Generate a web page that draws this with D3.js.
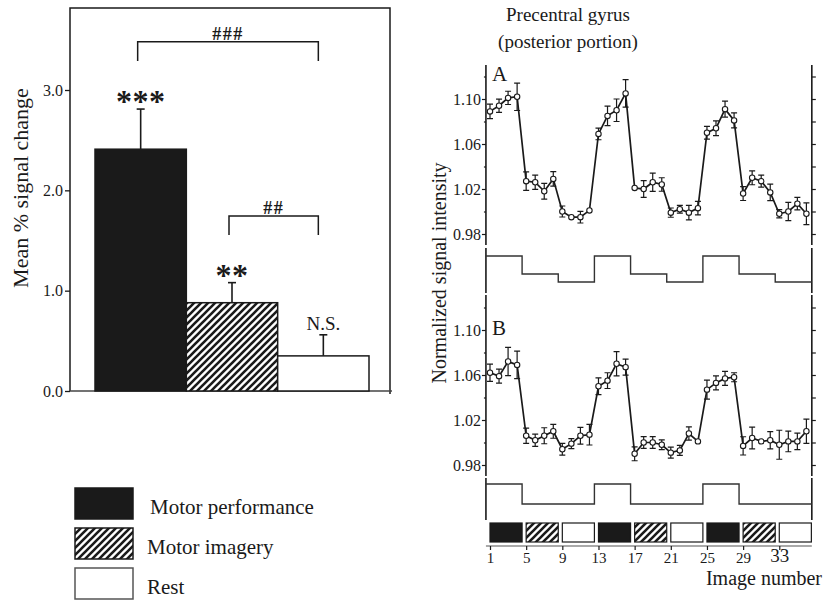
<!DOCTYPE html>
<html><head><meta charset="utf-8">
<script src="https://cdn.jsdelivr.net/npm/d3@7"></script>
<style>
body{margin:0;background:#fff}
svg{display:block}
text{font-family:"Liberation Serif","Times New Roman",serif;fill:#1a1a1a}
</style>
</head><body>
<svg id="c" width="831" height="603"></svg>
<script>
// ---------- DATA ----------
const categories = ["Motor performance", "Motor imagery", "Rest"];
const meanChange = [2.41, 0.88, 0.35];
const semChange = [0.40, 0.20, 0.21];
const sigMarks = ["***", "**", "N.S."];
const leftTicks = [0, 1, 2, 3];
const bracketPairs = [["Motor performance", "Rest"], ["Motor imagery", "Rest"]];
const bracketLevels = [3.48, 1.745];
const bracketMarks = ["###", "##"];

const imageNumbers = [1,2,3,4,5,6,7,8,9,10,11,12,13,14,15,16,17,18,19,20,21,22,23,24,25,26,27,28,29,30,31,32,33,34,35,36];
const seriesA = [1.089,1.094,1.101,1.102,1.027,1.026,1.018,1.029,1.000,0.995,0.995,1.001,
                 1.069,1.085,1.090,1.105,1.021,1.020,1.026,1.024,0.999,1.002,0.999,1.003,
                 1.070,1.074,1.091,1.081,1.016,1.030,1.027,1.017,0.998,1.000,1.007,0.998];
const errorA  = [0.0064,0.0059,0.0059,0.0122,0.0083,0.0064,0.0070,0.0064,0.0049,0,0.0052,0,
                 0.0052,0.0086,0.0100,0.0122,0,0.0074,0.0081,0.0060,0.0041,0.0034,0.0064,0.0060,
                 0.0056,0.0065,0.0071,0.0067,0.0062,0.0062,0.0053,0.0074,0.0037,0.0081,0.0055,0.0096];
const seriesB = [1.062,1.059,1.072,1.069,1.006,1.002,1.006,1.010,0.994,0.999,1.006,1.007,
                 1.050,1.055,1.070,1.067,0.990,1.000,1.000,0.998,0.991,0.993,1.008,1.001,
                 1.047,1.053,1.057,1.058,0.997,1.004,1.001,1.002,0.998,1.001,1.001,1.010];
const errorB  = [0.0077,0.0062,0.0126,0.0123,0.0067,0.0055,0.0071,0.0062,0.0052,0.0044,0.0074,0.0092,
                 0.0074,0.0070,0.0107,0.0071,0.0062,0.0052,0.0052,0.0044,0.0049,0.0044,0.0059,0,
                 0.0084,0.0062,0.0062,0.0040,0.0081,0.0096,0,0.0077,0.0129,0.0092,0.0074,0.0108];
const signalTicks = [0.98, 1.02, 1.06, 1.10];
const minorTicks = [1.00, 1.04, 1.08, 1.12];
const frameTicks = [0.98, 1.00, 1.02, 1.04, 1.06, 1.08, 1.10, 1.12];
const blockTypes = ["performance","imagery","rest","performance","imagery","rest","performance","imagery","rest"];
const blockStarts = [1, 5, 9, 13, 17, 21, 25, 29, 33];
const blockLength = 3.55;
const stimEdges = [0.55, 4.55, 8.55, 12.55, 16.55, 20.55, 24.55, 28.55, 32.55, 36.6];
const xTickLabels = [1, 5, 9, 13, 17, 21, 25, 29, 33];
const titleLines = ["Precentral gyrus", "(posterior portion)"];
const panelLabels = ["A", "B"];

// ---------- SETUP ----------
const ink = "#1a1a1a";
const serif = "'Liberation Serif', 'Times New Roman', serif";
const svg = d3.select("#c");
const defs = svg.append("defs");
const pat = defs.append("pattern").attr("id", "hatch")
  .attr("patternUnits", "userSpaceOnUse").attr("width", 7).attr("height", 7);
pat.append("rect").attr("width", 7).attr("height", 7).attr("fill", "#fff");
pat.append("path").attr("d", "M-1,8 L8,-1 M-1,1 L1,-1 M6,8 L8,6")
  .attr("stroke", ink).attr("stroke-width", 2.6);
const fillOf = {performance: ink, imagery: "url(#hatch)", rest: "#fff"};
const catType = {"Motor performance": "performance", "Motor imagery": "imagery", "Rest": "rest"};

// ---------- LEFT BAR CHART ----------
const yL = d3.scaleLinear().domain([0, 3]).range([391, 90]);
const xL = d3.scaleBand().domain(categories).range([95, 369]).padding(0);
const L = svg.append("g");

L.append("path").attr("d", "M70,391 L70,8 L390,8 L390,394")
  .attr("fill", "none").attr("stroke", ink).attr("stroke-width", 1.5);
L.append("line").attr("x1", 70).attr("x2", 392).attr("y1", 391).attr("y2", 391)
  .attr("stroke", "#444").attr("stroke-width", 1.5);

const axL = L.append("g").attr("transform", "translate(70,0)")
  .call(d3.axisLeft(yL).tickValues(leftTicks).tickFormat(d3.format(".1f")).tickSize(5).tickPadding(2).tickSizeOuter(0));
axL.attr("font-family", null);
axL.select(".domain").remove();
axL.selectAll("line").attr("stroke", ink).attr("stroke-width", 1.3);
axL.selectAll("text").style("font-size", "16px").style("font-family", serif).attr("fill", ink);

L.append("text").attr("transform", "translate(28,188) rotate(-90)")
  .attr("text-anchor", "middle").style("font-size", "22px").text("Mean % signal change");

categories.forEach((c, i) => {
  const x0 = xL(c), w = xL.bandwidth(), cx = x0 + w / 2;
  const top = yL(meanChange[i] + semChange[i]);
  L.append("line").attr("x1", cx).attr("x2", cx).attr("y1", yL(meanChange[i])).attr("y2", top)
    .attr("stroke", ink).attr("stroke-width", 1.6);
  L.append("line").attr("x1", cx - 4).attr("x2", cx + 4).attr("y1", top).attr("y2", top)
    .attr("stroke", ink).attr("stroke-width", 1.6);
  L.append("rect").attr("x", x0).attr("y", yL(meanChange[i])).attr("width", w)
    .attr("height", yL(0) - yL(meanChange[i]))
    .attr("fill", fillOf[catType[c]]).attr("stroke", ink).attr("stroke-width", 1.5);
  const isStar = sigMarks[i].startsWith("*");
  L.append("text").attr("x", cx).attr("y", isStar ? top + 3 : top - 5)
    .attr("text-anchor", "middle")
    .style("font-size", isStar ? "32px" : "19px")
    .style("font-weight", isStar ? "bold" : "normal")
    .style("letter-spacing", isStar ? "0.5px" : "0px")
    .text(sigMarks[i]);
});

bracketPairs.forEach((p, i) => {
  const xa = xL(p[0]) + xL.bandwidth() / 2 - 3;
  const xb = xL(p[1]) + xL.bandwidth() / 2 - 5;
  const yb = yL(bracketLevels[i]), yd = yL(bracketLevels[i] - 0.19);
  L.append("path").attr("d", `M${xa},${yd} L${xa},${yb} L${xb},${yb} L${xb},${yd}`)
    .attr("fill", "none").attr("stroke", ink).attr("stroke-width", 1.5);
  L.append("text").attr("x", (xa + xb) / 2).attr("y", yb - 2).attr("text-anchor", "middle")
    .style("font-size", "18px").style("font-weight", "bold").style("letter-spacing", "1.5px")
    .text(bracketMarks[i]);
});

categories.forEach((c, i) => {
  const y0 = 488 + i * 40;
  L.append("rect").attr("x", 75).attr("y", y0).attr("width", 58).attr("height", 31)
    .attr("fill", fillOf[catType[c]]).attr("stroke", i === 2 ? "#555" : ink).attr("stroke-width", 1.5);
  L.append("text").attr("x", i === 0 ? 150 : 147).attr("y", y0 + 26)
    .style("font-size", "21px").text(c);
});

// ---------- RIGHT TIME-COURSE PANELS ----------
const R = svg.append("g");
titleLines.forEach((t, i) => {
  R.append("text").attr("x", 568).attr("y", 21 + i * 27).attr("text-anchor", "middle")
    .style("font-size", "19px").text(t);
});
R.append("text").attr("transform", "translate(446,273) rotate(-90)")
  .attr("text-anchor", "middle").style("font-size", "20px").text("Normalized signal intensity");

const x = d3.scaleLinear().domain([1, 36]).range([490, 806.4]);
const xLeft = x(stimEdges[0]), xRight = x(stimEdges[stimEdges.length - 1]);

const panels = [
  {label: panelLabels[0], values: seriesA, errors: errorA,
   y: d3.scaleLinear().domain([0.98, 1.10]).range([234, 99]), top: 65, bottom: 245,
   stimY: {performance: 256, imagery: 274, rest: 282}, stimTop: 248, stimBottom: 293, labelY: 81},
  {label: panelLabels[1], values: seriesB, errors: errorB,
   y: d3.scaleLinear().domain([0.98, 1.10]).range([465, 330]), top: 295, bottom: 476,
   stimY: {performance: 484, imagery: 504, rest: 504}, stimTop: 478, stimBottom: 520, labelY: 335}
];

panels.forEach(P => {
  const g = R.append("g");
  [xLeft, xRight].forEach(xx => {
    g.append("line").attr("x1", xx).attr("x2", xx).attr("y1", P.top).attr("y2", P.bottom)
      .attr("stroke", ink).attr("stroke-width", 1.6);
    g.append("line").attr("x1", xx).attr("x2", xx).attr("y1", P.stimTop).attr("y2", P.stimBottom)
      .attr("stroke", ink).attr("stroke-width", 1.6);
  });
  const axl = g.append("g").attr("transform", `translate(${xLeft},0)`)
    .call(d3.axisLeft(P.y).tickValues(signalTicks).tickFormat(d3.format(".2f")).tickSize(4).tickPadding(1).tickSizeOuter(0));
  axl.attr("font-family", null);
  axl.select(".domain").remove();
  axl.selectAll("line").attr("stroke", ink).attr("stroke-width", 1.2);
  axl.selectAll("text").style("font-size", "16px").style("font-family", serif).attr("fill", ink);
  const axm = g.append("g").attr("transform", `translate(${xLeft},0)`)
    .call(d3.axisLeft(P.y).tickValues(minorTicks).tickFormat("").tickSize(2).tickSizeOuter(0));
  axm.select(".domain").remove();
  axm.selectAll("line").attr("stroke", ink).attr("stroke-width", 1.2);
  const axr = g.append("g").attr("transform", `translate(${xRight},0)`)
    .call(d3.axisRight(P.y).tickValues(frameTicks).tickFormat("").tickSize(4).tickSizeOuter(0));
  axr.select(".domain").remove();
  axr.selectAll("line").attr("stroke", ink).attr("stroke-width", 1.2);

  g.append("text").attr("x", 492).attr("y", P.labelY).style("font-size", "21px").text(P.label);

  const pts = imageNumbers.map((n, i) => ({n, v: P.values[i], e: P.errors[i]}));
  g.append("path").datum(pts)
    .attr("d", d3.line().x(d => x(d.n)).y(d => P.y(d.v)))
    .attr("fill", "none").attr("stroke", ink).attr("stroke-width", 1.7);
  pts.filter(d => d.e > 0).forEach(d => {
    const cx = x(d.n), y1 = P.y(d.v - d.e), y2 = P.y(d.v + d.e);
    g.append("path").attr("d", `M${cx},${y1} L${cx},${y2} M${cx - 3},${y1} L${cx + 3},${y1} M${cx - 3},${y2} L${cx + 3},${y2}`)
      .attr("fill", "none").attr("stroke", ink).attr("stroke-width", 1.2);
  });
  g.selectAll("circle.pt").data(pts).enter().append("circle").attr("class", "pt")
    .attr("cx", d => x(d.n)).attr("cy", d => P.y(d.v)).attr("r", 2.7)
    .attr("fill", "#fff").attr("stroke", ink).attr("stroke-width", 1.1);

  const stepPts = blockTypes.map((t, k) => [x(stimEdges[k]), P.stimY[t]]);
  stepPts.push([x(stimEdges[stimEdges.length - 1]), P.stimY[blockTypes[blockTypes.length - 1]]]);
  g.append("path").attr("d", d3.line().curve(d3.curveStepAfter)(stepPts))
    .attr("fill", "none").attr("stroke", "#333").attr("stroke-width", 1.4);
});

blockTypes.forEach((t, k) => {
  R.append("rect").attr("x", x(blockStarts[k])).attr("y", 523)
    .attr("width", x(blockStarts[k] + blockLength) - x(blockStarts[k])).attr("height", 19)
    .attr("fill", fillOf[t]).attr("stroke", ink).attr("stroke-width", 1.2);
});
R.append("line").attr("x1", xLeft).attr("x2", xRight).attr("y1", 546).attr("y2", 546)
  .attr("stroke", "#555").attr("stroke-width", 1.2);
const axb = R.append("g").attr("transform", "translate(0,546)")
  .call(d3.axisBottom(x).tickValues(xTickLabels).tickFormat(d3.format("d")).tickSize(4).tickPadding(2).tickSizeOuter(0));
axb.attr("font-family", null);
axb.select(".domain").remove();
axb.selectAll("line").attr("stroke", ink).attr("stroke-width", 1.2);
axb.selectAll("text").style("font-size", "15px").style("font-family", serif).attr("fill", ink);
axb.selectAll(".tick").filter(d => d === 33).select("text").style("font-size", "19px").attr("dy", "0.5em");
R.append("text").attr("x", 822).attr("y", 585).attr("text-anchor", "end")
  .style("font-size", "20px").text("Image number");
</script>
</body></html>
